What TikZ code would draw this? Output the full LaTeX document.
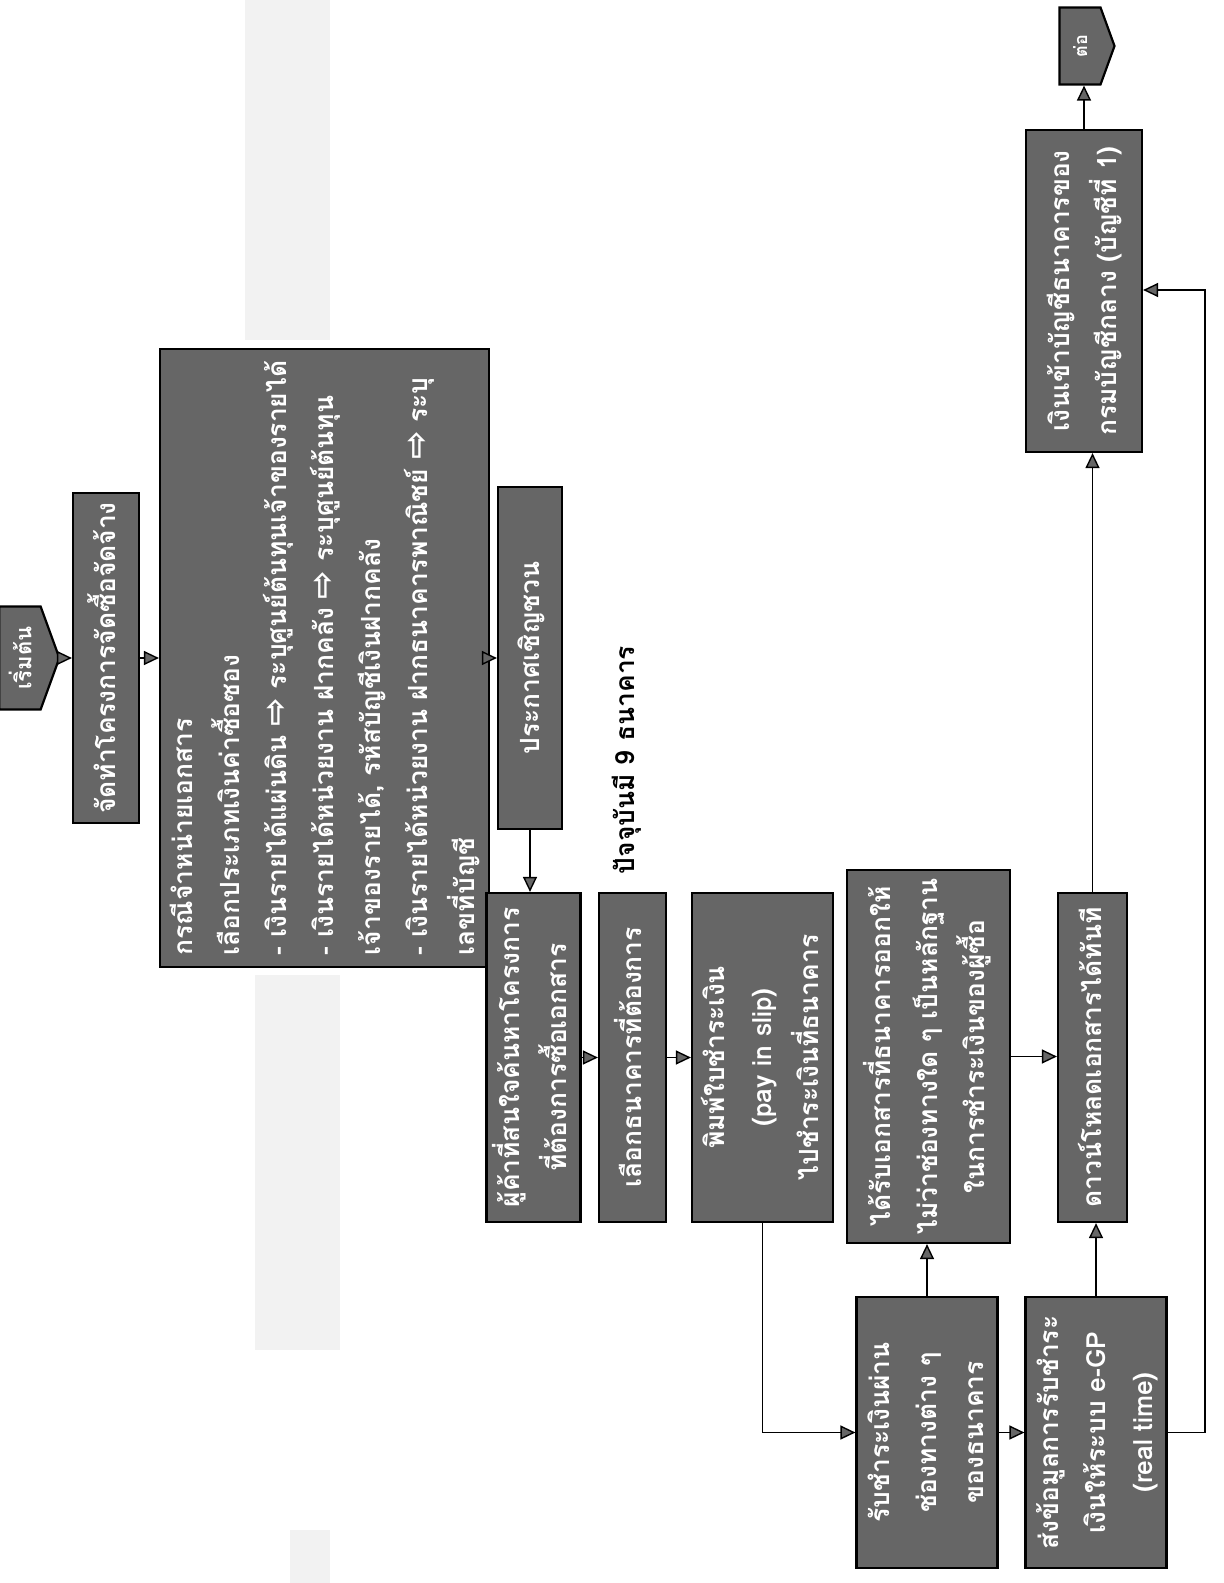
\documentclass[tikz,border=0pt]{standalone}
\usepackage{fontspec}
\setmainfont[Script=Thai]{Loma}
\newfontfamily\symfont{DejaVu Sans}
\usetikzlibrary{arrows.meta,shapes.symbols}
\definecolor{boxgray}{gray}{0.40}
\newcommand{\boxfont}{\fontsize{13.2}{23.5}\selectfont\bfseries}
\newcommand{\vtext}[2][c]{\rotatebox{90}{\begin{tabular}{@{}#1@{}}#2\end{tabular}}}
\newcommand{\warr}{{\symfont\fontsize{17}{17}\selectfont ⇨}}
\tikzset{
  box/.style={draw=black, line width=1.1pt, fill=boxgray, text=white, inner sep=0pt, font=\boxfont},
  term/.style={box, signal, signal to=east, signal pointer angle=140},
  arr/.style={line width=0.7pt, -{Triangle[length=7.5pt,width=7pt,fill=boxgray]}},
  noise/.style={fill=black!5, draw=none},
}
\begin{document}
\begin{tikzpicture}[x=0.5pt,y=-0.5pt]
\useasboundingbox (0,0) rectangle (1224,1583);
% faint scan shading
\fill[noise] (245,0) rectangle (330,340);
\fill[noise] (255,975) rectangle (340,1350);
\fill[noise] (290,1530) rectangle (330,1583);
% nodes
\node[term, minimum width=30pt, minimum height=51.5pt, font=\fontsize{11}{13}\selectfont\bfseries] (start) at (20,658) {\rotatebox{90}{เริ่มต้น}};
\node[box, minimum width=33pt, minimum height=165pt] (b1) at (106,658) {\vtext{จัดทำโครงการจัดซื้อจัดจ้าง}};
\node[box, minimum width=160.5pt, minimum height=309pt] (big) at (324.5,658) {\vtext[l]{กรณีจำหน่ายเอกสาร\\ เลือกประเภทเงินค่าซื้อซอง\\ - เงินรายได้แผ่นดิน \warr{} ระบุศูนย์ต้นทุนเจ้าของรายได้\\ - เงินรายได้หน่วยงาน ฝากคลัง \warr{} ระบุศูนย์ต้นทุน\\ เจ้าของรายได้, รหัสบัญชีเงินฝากคลัง\\ - เงินรายได้หน่วยงาน ฝากธนาคารพาณิชย์ \warr{} ระบุ\\ เลขที่บัญชี}};
\node[box, minimum width=32pt, minimum height=171pt] (prk) at (530,658) {\vtext{ประกาศเชิญชวน}};
\node[box, minimum width=44.5pt, minimum height=164.5pt] (trd) at (533.5,1057.5) {\vtext{ผู้ค้าที่สนใจค้นหาโครงการ\\ ที่ต้องการซื้อเอกสาร}};
\node[box, minimum width=33.5pt, minimum height=164.5pt] (sel) at (632.5,1057.5) {\vtext{เลือกธนาคารที่ต้องการ}};
\node[box, minimum width=67.5pt, minimum height=164.5pt] (pay) at (762.5,1057.5) {\vtext{พิมพ์ใบชำระเงิน\\ (pay in slip)\\ ไปชำระเงินที่ธนาคาร}};
\node[font=\boxfont] (note) at (627,760) {\rotatebox{90}{ปัจจุบันมี 9 ธนาคาร}};
\node[box, minimum width=81.5pt, minimum height=186.5pt] (got) at (928.5,1056.5) {\vtext{ได้รับเอกสารที่ธนาคารออกให้\\ ไม่ว่าช่องทางใด ๆ เป็นหลักฐาน\\ ในการชำระเงินของผู้ซื้อ}};
\node[box, minimum width=34.5pt, minimum height=164.5pt] (dl) at (1092.5,1057.5) {\vtext{ดาวน์โหลดเอกสารได้ทันที}};
\node[box, minimum width=70pt, minimum height=135.5pt] (rcv) at (927,1432.5) {\vtext{รับชำระเงินผ่าน\\ ช่องทางต่าง ๆ\\ ของธนาคาร}};
\node[box, minimum width=69pt, minimum height=135.5pt] (snd) at (1096,1432.5) {\vtext{ส่งข้อมูลการรับชำระ\\ เงินให้ระบบ e-GP\\ (real time)}};
\node[box, minimum width=58pt, minimum height=161pt] (mon) at (1084,291) {\vtext{เงินเข้าบัญชีธนาคารของ\\ กรมบัญชีกลาง (บัญชีที่ 1)}};
\node[term, minimum width=27.5pt, minimum height=38.5pt, font=\fontsize{9}{11}\selectfont\bfseries] (cont) at (1080,46) {\rotatebox{90}{ต่อ}};
% connectors
\draw[arr] (start.east) -- (start.east -| b1.west);
\draw[arr] (b1.east) -- (b1.east -| big.west);
\draw[arr] (big.east) -- (big.east -| prk.west);
\draw[arr] (prk.south) -- (prk.south |- trd.north);
\draw[arr] (trd.east) -- (trd.east -| sel.west);
\draw[arr] (sel.east) -- (sel.east -| pay.west);
\draw[arr] (pay.south) -- (pay.south |- rcv.west) -- (rcv.west);
\draw[arr] (rcv.north) -- (rcv.north |- got.south);
\draw[arr] (got.east) -- (got.east -| dl.west);
\draw[arr] (rcv.east) -- (rcv.east -| snd.west);
\draw[arr] (snd.north) -- (snd.north |- dl.south);
\draw[arr] (dl.north) -- (dl.north |- mon.south);
\draw[arr] (mon.north) -- (mon.north |- cont.south);
\coordinate (lp) at (1205,290);
\draw[arr] (snd.east) -- (snd.east -| lp) -- (lp) -- (lp -| mon.east);
\end{tikzpicture}
\end{document}
